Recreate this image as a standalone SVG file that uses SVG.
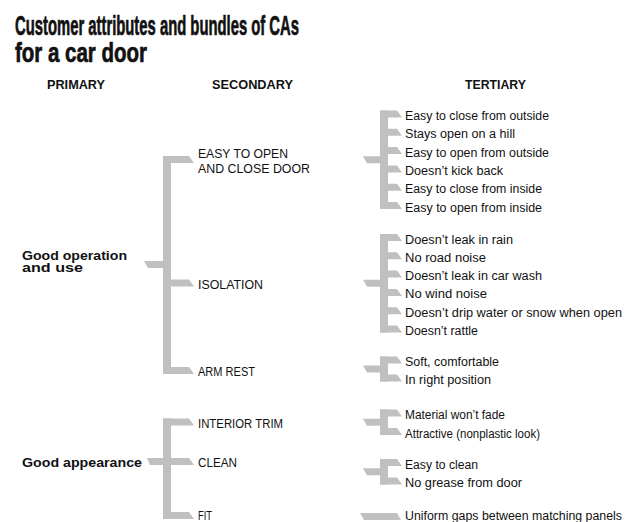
<svg xmlns="http://www.w3.org/2000/svg" width="626" height="522" viewBox="0 0 626 522">
  <style>
    .title { font-family: "Liberation Sans", Arial, sans-serif; font-weight: bold; font-size: 28px; fill: #111; stroke: #111; stroke-width: 0.7px; }
    .head { font-family: "Liberation Sans", Arial, sans-serif; font-weight: bold; font-size: 12.5px; fill: #111; }
    .prim { font-family: "Liberation Sans", Arial, sans-serif; font-weight: bold; font-size: 12px; fill: #111; }
    .sec { font-family: "Liberation Sans", Arial, sans-serif; font-size: 12px; fill: #111; }
    .ter { font-family: "Liberation Sans", Arial, sans-serif; font-size: 12px; fill: #111; }
    .br { fill: #c0c0c0; }
  </style>
  <rect width="626" height="522" fill="#ffffff"/>

  <!-- title -->
  <g id="title">
    <text class="title" x="15" y="35" textLength="284" lengthAdjust="spacingAndGlyphs">Customer attributes and bundles of CAs</text>
    <text class="title" x="15" y="62" textLength="132" lengthAdjust="spacingAndGlyphs">for a car door</text>
  </g>

  <!-- column headings -->
  <g id="headings">
    <text class="head" x="47" y="89" textLength="58" lengthAdjust="spacingAndGlyphs">PRIMARY</text>
    <text class="head" x="212" y="89" textLength="81" lengthAdjust="spacingAndGlyphs">SECONDARY</text>
    <text class="head" x="465" y="89" textLength="61" lengthAdjust="spacingAndGlyphs">TERTIARY</text>
  </g>

  <!-- bracket connectors -->
  <g id="connectors">
    <!-- primary: Good operation and use -->
    <polygon class="br" points="144,261 165,261 165,268 148,268"/>
    <rect class="br" x="163" y="156" width="8" height="218"/>
    <polygon class="br" points="163,156 189,156 194,163 163,163"/>
    <polygon class="br" points="163,279.5 189,279.5 194,286.5 163,286.5"/>
    <polygon class="br" points="163,367 189,367 194,374 163,374"/>

    <!-- primary: Good appearance -->
    <rect class="br" x="163" y="418.5" width="8" height="100.5"/>
    <polygon class="br" points="163,418.5 189,418.5 194,425.5 163,425.5"/>
    <polygon class="br" points="147,458 189,458 194,465 150,465"/>
    <polygon class="br" points="163,512 189,512 194,519 163,519"/>

    <!-- tertiary bundle: easy to open and close door -->
    <polygon class="br" points="363,156.25 382,156.25 382,163.25 367,163.25"/>
    <rect class="br" x="380" y="110.5" width="8" height="98.5"/>
    <polygon class="br" points="380,110.5 397,110.5 402,117.5 380,117.5"/>
    <polygon class="br" points="380,128.8 397,128.8 402,135.8 380,135.8"/>
    <polygon class="br" points="380,147.1 397,147.1 402,154.1 380,154.1"/>
    <polygon class="br" points="380,165.4 397,165.4 402,172.4 380,172.4"/>
    <polygon class="br" points="380,183.7 397,183.7 402,190.7 380,190.7"/>
    <polygon class="br" points="380,202 397,202 402,209 380,209"/>

    <!-- tertiary bundle: isolation -->
    <polygon class="br" points="363,279.75 382,279.75 382,286.75 367,286.75"/>
    <rect class="br" x="380" y="234" width="8" height="98.5"/>
    <polygon class="br" points="380,234 397,234 402,241 380,241"/>
    <polygon class="br" points="380,252.3 397,252.3 402,259.3 380,259.3"/>
    <polygon class="br" points="380,270.6 397,270.6 402,277.6 380,277.6"/>
    <polygon class="br" points="380,288.9 397,288.9 402,295.9 380,295.9"/>
    <polygon class="br" points="380,307.2 397,307.2 402,314.2 380,314.2"/>
    <polygon class="br" points="380,325.5 397,325.5 402,332.5 380,332.5"/>

    <!-- tertiary bundle: arm rest -->
    <polygon class="br" points="363,365.5 382,365.5 382,372.5 367,372.5"/>
    <rect class="br" x="380" y="356.5" width="8" height="25"/>
    <polygon class="br" points="380,356.5 397,356.5 402,363.5 380,363.5"/>
    <polygon class="br" points="380,374.5 397,374.5 402,381.5 380,381.5"/>

    <!-- tertiary bundle: interior trim -->
    <polygon class="br" points="363,418.75 382,418.75 382,425.75 367,425.75"/>
    <rect class="br" x="380" y="409.5" width="8" height="25.5"/>
    <polygon class="br" points="380,409.5 397,409.5 402,416.5 380,416.5"/>
    <polygon class="br" points="380,428 397,428 402,435 380,435"/>

    <!-- tertiary bundle: clean -->
    <polygon class="br" points="363,468.25 382,468.25 382,475.25 367,475.25"/>
    <rect class="br" x="380" y="459" width="8" height="25.5"/>
    <polygon class="br" points="380,459 397,459 402,466 380,466"/>
    <polygon class="br" points="380,477.5 397,477.5 402,484.5 380,484.5"/>

    <!-- tertiary single: fit -->
    <polygon class="br" points="360,513 397,513 401,520 364,520"/>
  </g>

  <!-- primary attributes -->
  <g id="p-operation">
    <text class="prim" x="22" y="260" textLength="105" lengthAdjust="spacingAndGlyphs">Good operation</text>
    <text class="prim" x="22" y="272" textLength="61" lengthAdjust="spacingAndGlyphs">and use</text>
  </g>
  <g id="p-appearance">
    <text class="prim" x="22" y="467" textLength="120" lengthAdjust="spacingAndGlyphs">Good appearance</text>
  </g>

  <!-- secondary attributes -->
  <g id="s-open-close">
    <text class="sec" x="198" y="158" textLength="90" lengthAdjust="spacingAndGlyphs">EASY TO OPEN</text>
    <text class="sec" x="198" y="173" textLength="112" lengthAdjust="spacingAndGlyphs">AND CLOSE DOOR</text>
  </g>
  <g id="s-isolation"><text class="sec" x="198" y="289" textLength="65" lengthAdjust="spacingAndGlyphs">ISOLATION</text></g>
  <g id="s-arm-rest"><text class="sec" x="198" y="376" textLength="57" lengthAdjust="spacingAndGlyphs">ARM REST</text></g>
  <g id="s-interior-trim"><text class="sec" x="198" y="428" textLength="85" lengthAdjust="spacingAndGlyphs">INTERIOR TRIM</text></g>
  <g id="s-clean"><text class="sec" x="198" y="467" textLength="39" lengthAdjust="spacingAndGlyphs">CLEAN</text></g>
  <g id="s-fit"><text class="sec" x="198" y="520" textLength="14" lengthAdjust="spacingAndGlyphs">FIT</text></g>

  <!-- tertiary attributes -->
  <g id="t-open-close">
    <text class="ter" x="405" y="120" textLength="144" lengthAdjust="spacingAndGlyphs">Easy to close from outside</text>
    <text class="ter" x="405" y="138.3" textLength="110" lengthAdjust="spacingAndGlyphs">Stays open on a hill</text>
    <text class="ter" x="405" y="156.6" textLength="144" lengthAdjust="spacingAndGlyphs">Easy to open from outside</text>
    <text class="ter" x="405" y="174.9" textLength="98" lengthAdjust="spacingAndGlyphs">Doesn’t kick back</text>
    <text class="ter" x="405" y="193.2" textLength="137" lengthAdjust="spacingAndGlyphs">Easy to close from inside</text>
    <text class="ter" x="405" y="211.5" textLength="137" lengthAdjust="spacingAndGlyphs">Easy to open from inside</text>
  </g>
  <g id="t-isolation">
    <text class="ter" x="405" y="243.5" textLength="108" lengthAdjust="spacingAndGlyphs">Doesn’t leak in rain</text>
    <text class="ter" x="405" y="261.8" textLength="81" lengthAdjust="spacingAndGlyphs">No road noise</text>
    <text class="ter" x="405" y="280.1" textLength="137" lengthAdjust="spacingAndGlyphs">Doesn’t leak in car wash</text>
    <text class="ter" x="405" y="298.4" textLength="82" lengthAdjust="spacingAndGlyphs">No wind noise</text>
    <text class="ter" x="405" y="316.7" textLength="217" lengthAdjust="spacingAndGlyphs">Doesn’t drip water or snow when open</text>
    <text class="ter" x="405" y="335" textLength="73" lengthAdjust="spacingAndGlyphs">Doesn’t rattle</text>
  </g>
  <g id="t-arm-rest">
    <text class="ter" x="405" y="366" textLength="94" lengthAdjust="spacingAndGlyphs">Soft, comfortable</text>
    <text class="ter" x="405" y="384" textLength="86" lengthAdjust="spacingAndGlyphs">In right position</text>
  </g>
  <g id="t-interior-trim">
    <text class="ter" x="405" y="419" textLength="100" lengthAdjust="spacingAndGlyphs">Material won’t fade</text>
    <text class="ter" x="405" y="437.5" textLength="135" lengthAdjust="spacingAndGlyphs">Attractive (nonplastic look)</text>
  </g>
  <g id="t-clean">
    <text class="ter" x="405" y="468.5" textLength="73" lengthAdjust="spacingAndGlyphs">Easy to clean</text>
    <text class="ter" x="405" y="487" textLength="117" lengthAdjust="spacingAndGlyphs">No grease from door</text>
  </g>
  <g id="t-fit">
    <text class="ter" x="405" y="520" textLength="217" lengthAdjust="spacingAndGlyphs">Uniform gaps between matching panels</text>
  </g>
</svg>
